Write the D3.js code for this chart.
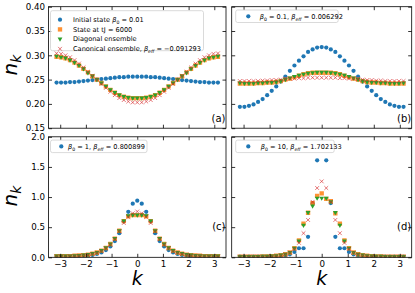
<!DOCTYPE html>
<html>
<head>
<meta charset="utf-8">
<script src="https://cdn.jsdelivr.net/npm/d3@7"></script>
<style>
  body { margin: 0; background: #fff; }
  svg { display: block; font-family: "DejaVu Sans", sans-serif; }
  text { white-space: pre; }
</style>
</head>
<body>
<div id="chart"></div>
<script>
// momentum grid, k = -pi .. pi (37 points)
const kGrid = [-3.142, -2.967, -2.793, -2.618, -2.443, -2.269, -2.094, -1.920, -1.745, -1.571, -1.396, -1.222,
  -1.047, -0.873, -0.698, -0.524, -0.349, -0.175, 0, 0.175, 0.349, 0.524, 0.698, 0.873, 1.047, 1.222, 1.396,
  1.571, 1.745, 1.920, 2.094, 2.269, 2.443, 2.618, 2.793, 2.967, 3.142];

const xTicks = [-3, -2, -1, 0, 1, 2, 3];
const yTicksTop = [0.15, 0.20, 0.25, 0.30, 0.35, 0.40];
const yTicksBottom = [0, 0.5, 1.0, 1.5, 2.0];
const panelTags = ["(a)", "(b)", "(c)", "(d)"];

// (a) beta0 = 0.01
const initA = [0.244, 0.244, 0.244, 0.245, 0.245, 0.246, 0.247, 0.248, 0.249, 0.250, 0.251, 0.252, 0.253, 0.254, 0.255, 0.255, 0.256, 0.256, 0.256,
  0.256, 0.256, 0.255, 0.255, 0.254, 0.253, 0.252, 0.251, 0.250, 0.249, 0.248, 0.247, 0.246, 0.245, 0.245, 0.244, 0.244, 0.244];
const stateA = [0.297, 0.296, 0.294, 0.290, 0.285, 0.279, 0.272, 0.265, 0.257, 0.250, 0.243, 0.236, 0.229, 0.223, 0.218, 0.215, 0.213, 0.212, 0.212,
  0.212, 0.213, 0.215, 0.218, 0.223, 0.229, 0.236, 0.243, 0.250, 0.257, 0.265, 0.272, 0.279, 0.285, 0.290, 0.294, 0.296, 0.297];
const diagA = [0.298, 0.296, 0.294, 0.290, 0.285, 0.279, 0.272, 0.264, 0.257, 0.250, 0.243, 0.236, 0.229, 0.223, 0.218, 0.215, 0.213, 0.212, 0.212,
  0.212, 0.213, 0.215, 0.218, 0.223, 0.229, 0.236, 0.243, 0.250, 0.257, 0.264, 0.272, 0.279, 0.285, 0.290, 0.294, 0.296, 0.298];
const canonA = [0.304, 0.303, 0.300, 0.296, 0.290, 0.283, 0.275, 0.266, 0.258, 0.250, 0.241, 0.233, 0.225, 0.218, 0.212, 0.208, 0.205, 0.203, 0.203,
  0.203, 0.205, 0.208, 0.212, 0.218, 0.225, 0.233, 0.241, 0.250, 0.258, 0.266, 0.275, 0.283, 0.290, 0.296, 0.300, 0.303, 0.304];

// (b) beta0 = 0.1
const initB = [0.194, 0.194, 0.196, 0.199, 0.204, 0.210, 0.218, 0.227, 0.236, 0.246, 0.256, 0.268, 0.279, 0.289, 0.298, 0.307, 0.312, 0.316, 0.317,
  0.316, 0.312, 0.307, 0.298, 0.289, 0.279, 0.268, 0.256, 0.246, 0.236, 0.227, 0.218, 0.210, 0.204, 0.199, 0.196, 0.194, 0.194];
const stateB = [0.242, 0.242, 0.242, 0.242, 0.243, 0.243, 0.244, 0.244, 0.245, 0.247, 0.250, 0.252, 0.255, 0.258, 0.261, 0.263, 0.264, 0.264, 0.264,
  0.264, 0.264, 0.263, 0.261, 0.258, 0.255, 0.252, 0.250, 0.247, 0.245, 0.244, 0.244, 0.243, 0.243, 0.242, 0.242, 0.242, 0.242];
const diagB = [0.243, 0.242, 0.242, 0.242, 0.243, 0.243, 0.244, 0.244, 0.245, 0.247, 0.250, 0.253, 0.256, 0.259, 0.261, 0.263, 0.264, 0.265, 0.265,
  0.265, 0.264, 0.263, 0.261, 0.259, 0.256, 0.253, 0.250, 0.247, 0.245, 0.244, 0.244, 0.243, 0.243, 0.242, 0.242, 0.242, 0.243];
const canonB = [0.247, 0.247, 0.247, 0.247, 0.247, 0.248, 0.248, 0.249, 0.249, 0.250, 0.251, 0.252, 0.252, 0.253, 0.253, 0.254, 0.254, 0.254, 0.254,
  0.254, 0.254, 0.254, 0.253, 0.253, 0.252, 0.252, 0.251, 0.250, 0.249, 0.249, 0.248, 0.248, 0.247, 0.247, 0.247, 0.247, 0.247];

// (c) beta0 = 1
const initC = [0.01, 0.01, 0.01, 0.012, 0.015, 0.02, 0.025, 0.03, 0.04, 0.055, 0.08, 0.12, 0.18, 0.27, 0.40, 0.60, 0.755, 0.89, 0.94,
  0.89, 0.755, 0.60, 0.40, 0.27, 0.18, 0.12, 0.08, 0.055, 0.04, 0.03, 0.025, 0.02, 0.015, 0.012, 0.01, 0.01, 0.01];
const stateC = [0.018, 0.018, 0.02, 0.02, 0.025, 0.03, 0.035, 0.045, 0.06, 0.08, 0.11, 0.155, 0.22, 0.31, 0.44, 0.60, 0.68, 0.70, 0.70,
  0.70, 0.68, 0.60, 0.44, 0.31, 0.22, 0.155, 0.11, 0.08, 0.06, 0.045, 0.035, 0.03, 0.025, 0.02, 0.02, 0.018, 0.018];
const diagC = [0.018, 0.018, 0.02, 0.02, 0.025, 0.03, 0.035, 0.045, 0.06, 0.08, 0.11, 0.155, 0.22, 0.31, 0.44, 0.60, 0.69, 0.70, 0.70,
  0.70, 0.69, 0.60, 0.44, 0.31, 0.22, 0.155, 0.11, 0.08, 0.06, 0.045, 0.035, 0.03, 0.025, 0.02, 0.02, 0.018, 0.018];
const canonC = [0.015, 0.015, 0.015, 0.018, 0.02, 0.025, 0.03, 0.04, 0.055, 0.075, 0.10, 0.15, 0.21, 0.30, 0.43, 0.57, 0.67, 0.73, 0.76,
  0.73, 0.67, 0.57, 0.43, 0.30, 0.21, 0.15, 0.10, 0.075, 0.055, 0.04, 0.03, 0.025, 0.02, 0.018, 0.015, 0.015, 0.015];

// (d) beta0 = 10
const initD = [0.01, 0.01, 0.01, 0.01, 0.01, 0.01, 0.01, 0.01, 0.015, 0.02, 0.03, 0.05, 0.09, 0.15, 0.15, 0.34, 0.90, 1.61, 2.03,
  1.61, 0.90, 0.34, 0.15, 0.15, 0.09, 0.05, 0.03, 0.02, 0.015, 0.01, 0.01, 0.01, 0.01, 0.01, 0.01, 0.01, 0.01];
const stateD = [0.01, 0.01, 0.01, 0.01, 0.01, 0.015, 0.015, 0.02, 0.025, 0.035, 0.05, 0.08, 0.15, 0.28, 0.56, 0.74, 0.90, 1.02, 1.06,
  0.97, 0.93, 0.73, 0.56, 0.28, 0.15, 0.08, 0.05, 0.035, 0.025, 0.02, 0.015, 0.015, 0.01, 0.01, 0.01, 0.01, 0.01];
const diagD = [0.01, 0.01, 0.01, 0.01, 0.01, 0.015, 0.015, 0.02, 0.025, 0.035, 0.05, 0.08, 0.15, 0.27, 0.53, 0.74, 0.85, 0.98, 0.98,
  0.98, 0.92, 0.74, 0.53, 0.27, 0.15, 0.08, 0.05, 0.035, 0.025, 0.02, 0.015, 0.015, 0.01, 0.01, 0.01, 0.01, 0.01];
const canonD = [0.01, 0.01, 0.01, 0.01, 0.01, 0.01, 0.01, 0.015, 0.02, 0.03, 0.05, 0.08, 0.14, 0.24, 0.40, 0.62, 0.92, 1.15, 1.26,
  1.15, 0.92, 0.62, 0.40, 0.24, 0.14, 0.08, 0.05, 0.03, 0.02, 0.015, 0.01, 0.01, 0.01, 0.01, 0.01, 0.01, 0.01];

// legend labels (math parts: i = italic, sub = subscript)
const legendA = [
  [{ t: "Initial state " }, { t: "β", i: 1 }, { t: "0", sub: 1 }, { t: " = 0.01" }],
  [{ t: "State at tJ = 6000" }],
  [{ t: "Diagonal ensemble" }],
  [{ t: "Canonical ensemble, " }, { t: "β", i: 1 }, { t: "eff", i: 1, sub: 1 }, { t: " = −0.091293" }]
];
const legendB = [[{ t: "β", i: 1 }, { t: "0", sub: 1 }, { t: " = 0.1, " }, { t: "β", i: 1 }, { t: "eff", i: 1, sub: 1 }, { t: " = 0.006292" }]];
const legendC = [[{ t: "β", i: 1 }, { t: "0", sub: 1 }, { t: " = 1, " }, { t: "β", i: 1 }, { t: "eff", i: 1, sub: 1 }, { t: " = 0.800899" }]];
const legendD = [[{ t: "β", i: 1 }, { t: "0", sub: 1 }, { t: " = 10, " }, { t: "β", i: 1 }, { t: "eff", i: 1, sub: 1 }, { t: " = 1.702133" }]];

const markerStyles = [
  { shape: "circle", fill: "#1f77b4", opacity: 1 },
  { shape: "square", fill: "#ff7f0e", opacity: 0.85 },
  { shape: "tri", fill: "#2ca02c", opacity: 1 },
  { shape: "x", stroke: "#d62728", opacity: 0.7 }
];

function markerPath(shape) {
  if (shape === "circle") return d3.symbol(d3.symbolCircle, 14)();
  if (shape === "square") return d3.symbol(d3.symbolSquare, 19)();
  if (shape === "tri") return "M-2.4,-1.6L2.4,-1.6L0,2.6Z";
  return "M-1.9,-1.9L1.9,1.9M-1.9,1.9L1.9,-1.9";
}

function drawMarker(sel, style) {
  sel.append("path")
    .attr("d", markerPath(style.shape))
    .attr("fill", style.fill || "none")
    .attr("stroke", style.stroke || "none")
    .attr("stroke-width", style.stroke ? 0.9 : 0)
    .attr("opacity", style.opacity);
}

function mathText(textSel, parts, size) {
  let shift = 0;
  parts.forEach(p => {
    let target = p.sub ? size * 0.28 : 0;
    let ts = textSel.append("tspan").text(p.t)
      .attr("dy", target - shift)
      .attr("font-size", p.sub ? size * 0.7 : size);
    if (p.i) ts.attr("font-style", "italic");
    shift = target;
  });
}

const svg = d3.select("#chart").append("svg")
  .attr("width", 415)
  .attr("height", 293);

class NkPanel {
  constructor(_config, _series) {
    this.config = _config;
    this.series = _series;
    this.initVis();
  }

  initVis() {
    let vis = this;
    let c = vis.config;

    vis.g = svg.append("g").attr("transform", `translate(${c.left},${c.top})`);

    vis.xScale = d3.scaleLinear().domain([-3.456, 3.456]).range([0, c.width]);
    vis.yScale = d3.scaleLinear().domain(c.yDomain).range([c.height, 0]);

    vis.g.append("clipPath").attr("id", "clip" + c.id)
      .append("rect").attr("width", c.width).attr("height", c.height);

    vis.renderVis();
  }

  renderVis() {
    let vis = this;
    let c = vis.config;

    // markers, in plotting order
    let plot = vis.g.append("g").attr("clip-path", `url(#clip${c.id})`);
    vis.series.forEach((values, si) => {
      let style = markerStyles[si];
      plot.selectAll(".m" + si)
        .data(values)
        .enter()
        .append("g")
        .attr("class", "m" + si)
        .attr("transform", (d, i) => `translate(${vis.xScale(kGrid[i])},${vis.yScale(d)})`)
        .each(function () { drawMarker(d3.select(this), style); });
    });

    // axes, ticks pointing inwards on all four sides
    let styleAxis = g => {
      g.select(".domain").remove();
      g.selectAll("line").attr("stroke-width", 0.8);
      g.attr("font-size", 8.7).attr("font-family", "DejaVu Sans").attr("color", "#000");
    };

    vis.g.append("g").attr("transform", `translate(0,${c.height})`)
      .call(d3.axisBottom(vis.xScale).tickValues(xTicks).tickSize(-3.5).tickPadding(4)
        .tickFormat(c.xLabels ? d3.format("d") : ""))
      .call(styleAxis);
    vis.g.append("g")
      .call(d3.axisTop(vis.xScale).tickValues(xTicks).tickSize(-3.5).tickFormat(""))
      .call(styleAxis);
    vis.g.append("g")
      .call(d3.axisLeft(vis.yScale).tickValues(c.yTicks).tickSize(-3.5).tickPadding(3.5)
        .tickFormat(c.yLabels ? d3.format(c.yFmt) : ""))
      .call(styleAxis);
    vis.g.append("g").attr("transform", `translate(${c.width},0)`)
      .call(d3.axisRight(vis.yScale).tickValues(c.yTicks).tickSize(-3.5).tickFormat(""))
      .call(styleAxis);

    vis.g.append("rect")
      .attr("width", c.width)
      .attr("height", c.height)
      .attr("fill", "none")
      .attr("stroke", "#000")
      .attr("stroke-width", 0.8);

    // panel tag
    vis.g.append("text")
      .attr("x", c.width - 0.5)
      .attr("y", c.height - c.tagOffset)
      .attr("text-anchor", "end")
      .attr("font-size", 10)
      .text(c.tag);

    // legend
    let lg = c.legend;
    let box = vis.g.append("g").attr("transform", `translate(${lg.x},${lg.y})`);
    box.append("rect")
      .attr("width", lg.w)
      .attr("height", lg.h)
      .attr("rx", 2)
      .attr("fill", "#fff")
      .attr("fill-opacity", 0.8)
      .attr("stroke", "#d0d0d0")
      .attr("stroke-width", 0.8);
    lg.items.forEach((parts, i) => {
      let cy = lg.firstRow + i * 9.7;
      let m = box.append("g").attr("transform", `translate(${lg.markerX},${cy})`);
      drawMarker(m, markerStyles[i]);
      let t = box.append("text")
        .attr("x", lg.textX)
        .attr("y", cy + 2.4)
        .attr("font-size", 6.6)
        .attr("fill", "#000");
      mathText(t, parts, 6.6);
    });
  }
}

const topY = 6.7, topH = 121.5, botY = 136.8, botH = 120.5;
const leftX = 48.5, leftW = 177.5, rightX = 231.7, rightW = 180;

new NkPanel({
  id: "a", left: leftX, top: topY, width: leftW, height: topH,
  yDomain: [0.15, 0.40], yTicks: yTicksTop, yFmt: ".2f", xLabels: false, yLabels: true,
  tag: panelTags[0], tagOffset: 6.5,
  legend: { x: 2, y: 4, w: 153, h: 40, firstRow: 9, markerX: 9.5, textX: 22.5, items: legendA }
}, [initA, stateA, diagA, canonA]);

new NkPanel({
  id: "b", left: rightX, top: topY, width: rightW, height: topH,
  yDomain: [0.15, 0.40], yTicks: yTicksTop, yFmt: ".2f", xLabels: false, yLabels: false,
  tag: panelTags[1], tagOffset: 6.5,
  legend: { x: 4, y: 3.3, w: 102.5, h: 12.5, firstRow: 6.3, markerX: 12.6, textX: 24, items: legendB }
}, [initB, stateB, diagB, canonB]);

new NkPanel({
  id: "c", left: leftX, top: botY, width: leftW, height: botH,
  yDomain: [0, 2], yTicks: yTicksBottom, yFmt: ".1f", xLabels: true, yLabels: true,
  tag: panelTags[2], tagOffset: 27,
  legend: { x: 2, y: 3.3, w: 96.5, h: 12.5, firstRow: 6.3, markerX: 10.8, textX: 17.5, items: legendC }
}, [initC, stateC, diagC, canonC]);

new NkPanel({
  id: "d", left: rightX, top: botY, width: rightW, height: botH,
  yDomain: [0, 2], yTicks: yTicksBottom, yFmt: ".1f", xLabels: true, yLabels: false,
  tag: panelTags[3], tagOffset: 27,
  legend: { x: 4, y: 3.3, w: 98.5, h: 12.5, firstRow: 6.3, markerX: 12.6, textX: 25, items: legendD }
}, [initD, stateD, diagD, canonD]);

// axis labels
[[17.3, 65], [17.3, 196]].forEach(([x, y]) => {
  let t = svg.append("text")
    .attr("transform", `translate(${x},${y}) rotate(-90)`)
    .attr("text-anchor", "middle")
    .attr("font-size", 20);
  t.append("tspan").attr("font-style", "italic").text("n");
  t.append("tspan").attr("font-style", "italic").attr("font-size", 14).attr("dy", 4).text("k");
});
[leftX + leftW / 2, rightX + rightW / 2].forEach(x => {
  svg.append("text")
    .attr("x", x)
    .attr("y", 285)
    .attr("text-anchor", "middle")
    .attr("font-size", 19)
    .attr("font-style", "italic")
    .text("k");
});
</script>
</body>
</html>
